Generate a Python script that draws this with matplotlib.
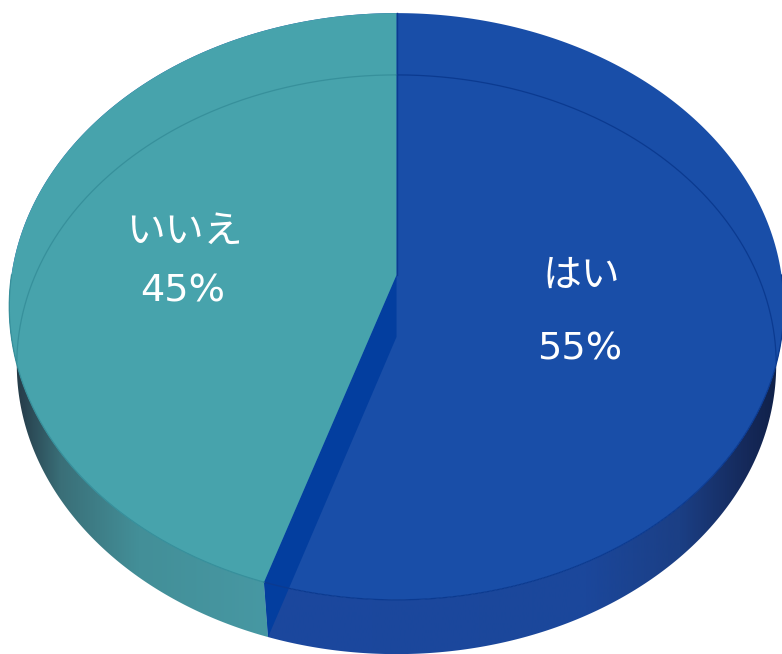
import numpy as np
import matplotlib
matplotlib.use("Agg")
import matplotlib.pyplot as plt
from matplotlib.colors import LinearSegmentedColormap
from matplotlib.patches import Polygon

labels = ["はい", "いいえ"]
shares = [55, 45]

top_colors = ["#194EA8", "#47A3AC"]
cut_color = "#033E9F"
edge_colors = ["#0B3A90", "#37909B"]

# Perspective of the two discs, in pixels: centre x, centre y, radius x, radius y, tilt
top_disc = (396.5, 275, 385, 290, 0.1073)
base_disc = (396.5, 337, 378, 287, 0.095)


def rim(disc, start, stop, n=200):
    # angles in degrees, clockwise from the back of the pie
    cx, cy, a, b, k = disc
    t = np.radians(np.linspace(start, stop, n))
    w = 1 + k * np.cos(t)
    return np.column_stack([cx + a * np.sin(t) / w, cy - b * np.cos(t) / w])


fig = plt.figure(figsize=(7.82, 6.54), dpi=100, facecolor="white")
ax = fig.add_axes([0, 0, 1, 1])

split = 360 * shares[0] / sum(shares)


def wall(start, stop, stops):
    # side of the pie, shaded from left to right
    pts = np.vstack([rim(top_disc, start, stop), rim(base_disc, stop, start)])
    cmap = LinearSegmentedColormap.from_list("wall", stops)
    x0, x1 = pts[:, 0].min(), pts[:, 0].max()
    im = ax.imshow(np.linspace(0, 1, 512)[None, :], cmap=cmap, aspect="auto",
                   extent=[x0, x1, 660, 0], zorder=1)
    im.set_clip_path(Polygon(pts, transform=ax.transData))


wall(90, split, [(0, "#1B489E"), (0.62, "#1B479B"), (0.8, "#1B3F85"),
                 (0.93, "#15295A"), (1, "#0F1F45")])
wall(split, 270, [(0, "#22343F"), (0.05, "#28414E"), (0.2, "#3A6F78"),
                  (0.5, "#438F98"), (1, "#4798A3")])

# Top faces and the cut between the slices
ax.add_patch(Polygon(rim(top_disc, 0, 360, 400), fc=top_colors[0], ec="none", zorder=2))
cut = np.vstack([[top_disc[:2]], [base_disc[:2]], rim(base_disc, split, split, 1),
                 rim(top_disc, split, split, 1)])
ax.add_patch(Polygon(cut, fc=cut_color, ec="none", zorder=3))
teal = np.vstack([[top_disc[:2]], rim(top_disc, split, 360)])
ax.add_patch(Polygon(teal, fc=top_colors[1], ec="none", zorder=4))

# Thin edges, the far rim of the base shows through the top
for pts, c in [(rim(base_disc, 0, 95), edge_colors[0]),
               (rim(base_disc, 265, 360), edge_colors[1]),
               (rim(top_disc, 90, split), edge_colors[0]),
               (rim(top_disc, split, 270), edge_colors[1])]:
    ax.plot(pts[:, 0], pts[:, 1], color=c, lw=0.9, zorder=5)
back = np.vstack([rim(top_disc, 0, 0, 1), [top_disc[:2]]])
ax.plot(back[:, 0], back[:, 1], color=edge_colors[0], lw=1, zorder=5)

# Labels
font = ["DejaVu Sans", "Noto Sans CJK JP"]
for label, share, lx, ly, py in [(labels[0], shares[0], 581, 276, 349),
                                 (labels[1], shares[1], 184, 232, 292)]:
    ax.text(lx, ly, label, color="white", fontsize=28, family=font,
            ha="center", va="center", zorder=6)
    ax.text(lx - 1, py, f"{share}%", color="white", fontsize=27.5, family=font,
            ha="center", va="center", zorder=6)

ax.set_xlim(0, 782)
ax.set_ylim(654, 0)
ax.axis("off")

fig.savefig("out.png", dpi=100, facecolor="white")
